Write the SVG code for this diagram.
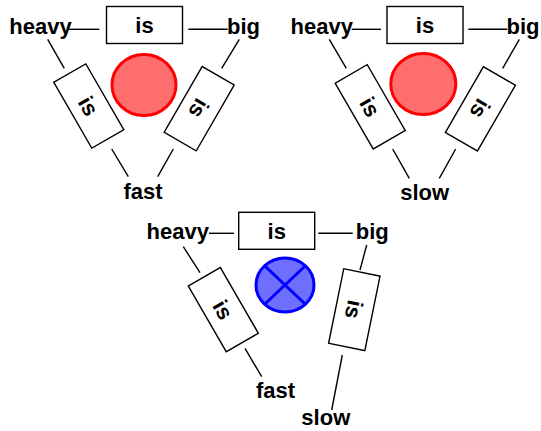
<svg xmlns="http://www.w3.org/2000/svg" width="541" height="431" viewBox="0 0 541 431">
<style>
  .lbl{font-family:"Liberation Sans",Arial,sans-serif;font-weight:bold;font-size:22px;fill:#000;text-anchor:middle}
  .box{fill:#fff;stroke:#000;stroke-width:1.4}
  .conn line{stroke:#000;stroke-width:1.4}
  .red{fill:#ff6e6e;stroke:#f00;stroke-width:3}
  .blue{fill:#6e6eff;stroke:#00f;stroke-width:3}
  .xline{stroke:#00f;stroke-width:3}
</style>
<defs>
  <g id="isbox">
    <rect class="box" x="-38" y="-18.5" width="76" height="37"/>
    <text class="lbl" x="0" y="8">is</text>
  </g>
</defs>
<rect width="541" height="431" fill="#fff"/>

<g id="connectors" class="conn">
  <line x1="68" y1="29.3" x2="99.3" y2="29.3"/>
  <line x1="188.3" y1="29.3" x2="227.7" y2="29.3"/>
  <line x1="47.7" y1="39.3" x2="64.3" y2="68.3"/>
  <line x1="111.7" y1="149" x2="128.3" y2="176.7"/>
  <line x1="239.3" y1="39.3" x2="221.7" y2="68.3"/>
  <line x1="173.3" y1="149" x2="157.7" y2="176.7"/>

  <line x1="351.7" y1="29.3" x2="381" y2="29.3"/>
  <line x1="468.3" y1="29.3" x2="507.3" y2="29.3"/>
  <line x1="329.3" y1="39.3" x2="346.3" y2="68.3"/>
  <line x1="392.7" y1="149" x2="409.3" y2="178.3"/>
  <line x1="519.3" y1="39.3" x2="502.7" y2="68.3"/>
  <line x1="455.7" y1="149" x2="439.3" y2="178.3"/>

  <line x1="209" y1="233.3" x2="234" y2="233.3"/>
  <line x1="318.3" y1="233.3" x2="352.7" y2="233.3"/>
  <line x1="183.3" y1="246.7" x2="200" y2="272.7"/>
  <line x1="245" y1="348.3" x2="261.7" y2="376.7"/>
  <line x1="366.7" y1="245" x2="360" y2="270"/>
  <line x1="342.3" y1="355" x2="331.7" y2="410"/>
</g>

<!-- Panel 1 -->
<g id="p1-heavy"><text class="lbl" x="40.5" y="34">heavy</text></g>
<g id="p1-big"><text class="lbl" x="243.5" y="34">big</text></g>
<g id="p1-fast"><text class="lbl" x="143" y="199">fast</text></g>
<g id="p1-is-top"><use href="#isbox" transform="translate(144.5,25)"/></g>
<g id="p1-is-left"><use href="#isbox" transform="translate(88.8,106) rotate(60)"/></g>
<g id="p1-is-right"><use href="#isbox" transform="translate(199.2,108.7) rotate(120)"/></g>
<g id="p1-circle"><ellipse class="red" cx="144" cy="85" rx="32" ry="30.5"/></g>

<!-- Panel 2 -->
<g id="p2-heavy"><text class="lbl" x="321.8" y="34">heavy</text></g>
<g id="p2-big"><text class="lbl" x="523" y="34">big</text></g>
<g id="p2-slow"><text class="lbl" x="424.7" y="200">slow</text></g>
<g id="p2-is-top"><use href="#isbox" transform="translate(425,25)"/></g>
<g id="p2-is-left"><use href="#isbox" transform="translate(370.2,106.8) rotate(60)"/></g>
<g id="p2-is-right"><use href="#isbox" transform="translate(480.4,108.9) rotate(120)"/></g>
<g id="p2-circle"><ellipse class="red" cx="423.3" cy="84" rx="32.5" ry="30.5"/></g>

<!-- Panel 3 -->
<g id="p3-heavy"><text class="lbl" x="177.8" y="239">heavy</text></g>
<g id="p3-big"><text class="lbl" x="372.2" y="239">big</text></g>
<g id="p3-fast"><text class="lbl" x="275.5" y="398">fast</text></g>
<g id="p3-slow"><text class="lbl" x="325.8" y="425">slow</text></g>
<g id="p3-is-top"><use href="#isbox" transform="translate(276.7,230.8)"/></g>
<g id="p3-is-left"><use href="#isbox" transform="translate(223.3,309.6) rotate(60)"/></g>
<g id="p3-is-right"><use href="#isbox" transform="translate(354.3,309.7) rotate(101.5)"/></g>
<g id="p3-circle">
  <ellipse class="blue" cx="285" cy="285" rx="29" ry="27"/>
  <line class="xline" x1="264.3" y1="265.5" x2="305.7" y2="304.5"/>
  <line class="xline" x1="305.7" y1="265.5" x2="264.3" y2="304.5"/>
</g>
</svg>
